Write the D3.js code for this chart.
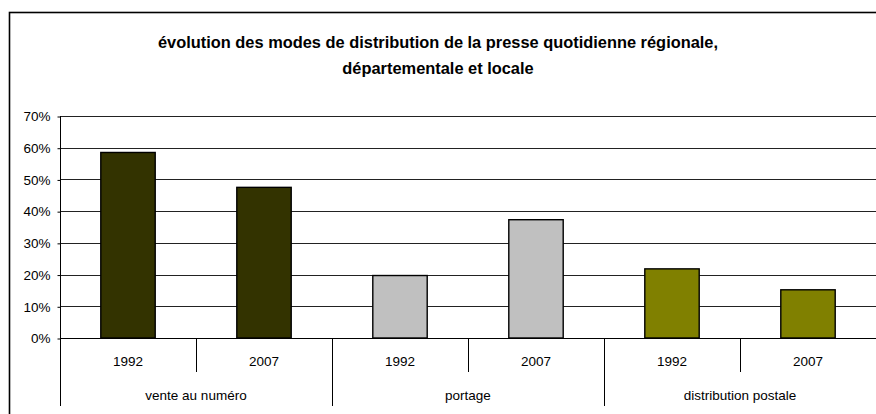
<!DOCTYPE html>
<html>
<head>
<meta charset="utf-8">
<script src="https://cdn.jsdelivr.net/npm/d3@7"></script>
<style>
  html, body { margin: 0; padding: 0; background: #fff; }
  svg { display: block; font-family: "Liberation Sans", Arial, sans-serif; }
</style>
</head>
<body>
<div id="chart"></div>
<script>
// data
const groups = ["vente au numéro", "portage", "distribution postale"];
const years = ["1992", "2007"];
const values1992 = [0.585, 0.197, 0.218];
const values2007 = [0.475, 0.373, 0.152];
const groupColors = ["#333300", "#C0C0C0", "#808000"];
const yTicks = [0, 0.1, 0.2, 0.3, 0.4, 0.5, 0.6, 0.7];
const titleLines = [
  "évolution des modes de distribution de la presse quotidienne régionale,",
  "départementale et locale"
];

const width = 876, height = 414;
const plot = { left: 60, right: 876, top: 116, bottom: 338 };

const svg = d3.select("#chart").append("svg")
  .attr("width", width)
  .attr("height", height);

// outer frame (runs off the right and bottom edges)
svg.append("rect")
  .attr("x", 9.5).attr("y", 12.5)
  .attr("width", 900).attr("height", 450)
  .attr("fill", "none")
  .attr("stroke", "#000")
  .attr("stroke-width", 1.6);

svg.append("g").selectAll("text")
  .data(titleLines)
  .join("text")
  .attr("x", width / 2)
  .attr("y", (d, i) => 48 + i * 26)
  .attr("text-anchor", "middle")
  .attr("font-size", "16.4px")
  .attr("font-weight", "bold")
  .text(d => d);

const y = d3.scaleLinear().domain([0, 0.7]).range([plot.bottom, plot.top]);
const x0 = d3.scaleBand().domain(groups).range([plot.left, plot.right]);
const x1 = d3.scaleBand().domain(years).range([0, x0.bandwidth()]);
const barW = x1.bandwidth() * 0.4;

// gridlines
svg.append("g").selectAll("line")
  .data(yTicks.slice(1))
  .join("line")
  .attr("x1", plot.left).attr("x2", plot.right)
  .attr("y1", d => Math.round(y(d)) + 0.5)
  .attr("y2", d => Math.round(y(d)) + 0.5)
  .attr("stroke", "#222")
  .attr("stroke-width", 1);

// y axis
const yAxis = svg.append("g")
  .attr("transform", `translate(${plot.left + 0.5},0.5)`)
  .call(d3.axisLeft(y).tickValues(yTicks).tickFormat(d3.format(".0%")).tickSize(3).tickSizeOuter(0));
yAxis.select(".domain").remove();
yAxis.selectAll("line").attr("stroke", "#000");
yAxis.selectAll("text")
  .attr("x", -10)
  .attr("font-size", "13.5px")
  .attr("font-family", "Liberation Sans, Arial, sans-serif")
  .attr("fill", "#000");

// bars
const rows = groups.map((g, i) => ({ group: g, color: groupColors[i],
  vals: [{ year: years[0], v: values1992[i] }, { year: years[1], v: values2007[i] }] }));

const gGroup = svg.append("g").selectAll("g")
  .data(rows)
  .join("g")
  .attr("transform", d => `translate(${x0(d.group)},0)`);

gGroup.selectAll("rect")
  .data(d => d.vals.map(v => ({ ...v, color: d.color })))
  .join("rect")
  .attr("x", d => x1(d.year) + (x1.bandwidth() - barW) / 2)
  .attr("y", d => y(d.v))
  .attr("width", barW)
  .attr("height", d => y(0) - y(d.v))
  .attr("fill", d => d.color)
  .attr("stroke", "#000")
  .attr("stroke-width", 1.4);

// axis lines
svg.append("line")
  .attr("x1", plot.left + 0.5).attr("x2", plot.left + 0.5)
  .attr("y1", plot.top).attr("y2", 406)
  .attr("stroke", "#000");
svg.append("line")
  .attr("x1", plot.left).attr("x2", plot.right)
  .attr("y1", plot.bottom + 0.5).attr("y2", plot.bottom + 0.5)
  .attr("stroke", "#000");

// separators between years and between groups
gGroup.append("line")
  .attr("x1", x1(years[1]) + 0.5).attr("x2", x1(years[1]) + 0.5)
  .attr("y1", plot.bottom).attr("y2", 372)
  .attr("stroke", "#000");
gGroup.filter((d, i) => i > 0).append("line")
  .attr("x1", 0.5).attr("x2", 0.5)
  .attr("y1", plot.bottom).attr("y2", 406)
  .attr("stroke", "#000");

// year labels
gGroup.selectAll("text.year")
  .data(years)
  .join("text")
  .attr("class", "year")
  .attr("x", d => x1(d) + x1.bandwidth() / 2)
  .attr("y", 365.5)
  .attr("text-anchor", "middle")
  .attr("font-size", "13.5px")
  .text(d => d);

// group labels
gGroup.append("text")
  .attr("x", x0.bandwidth() / 2)
  .attr("y", 400)
  .attr("text-anchor", "middle")
  .attr("font-size", "13.5px")
  .text(d => d.group);
</script>
</body>
</html>
